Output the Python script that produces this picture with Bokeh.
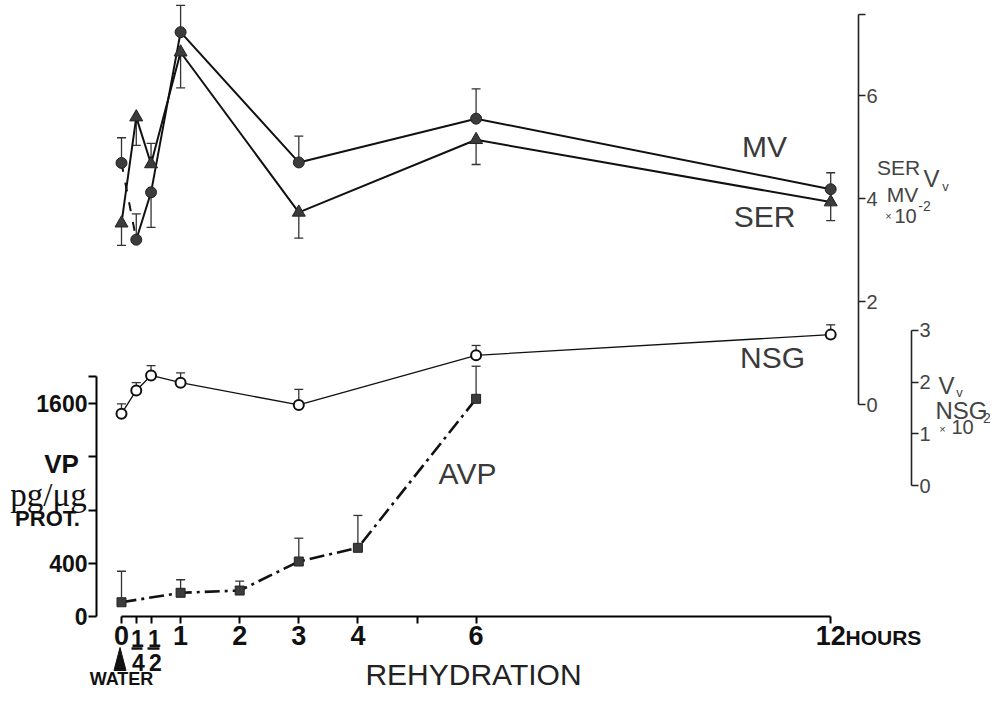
from bokeh.plotting import figure
from bokeh.models import Range1d, LinearAxis, FixedTicker, Whisker, TeeHead, ColumnDataSource
from bokeh.core.properties import value
from bokeh.embed import file_html
from bokeh.resources import INLINE

# ---------------- data ----------------
hours = [0, 0.25, 0.5, 1, 3, 6, 12]
mv = [4.69, 3.20, 4.12, 7.23, 4.70, 5.55, 4.18]
mv_err = [0.49, 0.50, -0.68, 0.52, 0.51, 0.58, 0.32]      # +: bar up, -: bar down
ser = [3.52, 5.58, 4.67, 6.84, 3.73, 5.14, 3.93]
ser_err = [-0.43, -0.55, 0.40, -0.69, -0.50, -0.48, -0.36]
nsg = [1.39, 1.84, 2.13, 1.99, 1.56, 2.52, 2.92]
nsg_err = [0.19, 0.15, 0.19, 0.19, 0.30, 0.19, 0.19]
avp_hours = [0, 1, 2, 3, 4, 6]
avp = [107, 178, 195, 413, 516, 1635]
avp_err = [233, 98, 70, 175, 243, 245]

hour_ticks = [0, 0.25, 0.5, 1, 2, 3, 4, 5, 6, 12]
hour_labels = ["0", "", "", "1", "2", "3", "4", "", "6", "12"]
vp_ticks = [0, 400, 800, 1200, 1600, 1800]
vp_labels = ["0", "400", "", "", "1600", ""]
vv_ticks = [0, 2, 4, 6, 7.57]
vv_labels = ["0", "2", "4", "6", ""]
nsg_ticks = [0, 1, 2, 3]
nsg_labels = ["0", "1", "2", "3"]

# ---------------- layout (picture pixels) ----------------
W, H = 990, 691
OX, OY = 0, 0
PX0, PXH = 121.0, 59.1            # hour 0 position, px per hour
PY0, K = 616.0, 400 / 53.25       # VP 0 position, units per px
MV0, MVS = 404.0, 51.5
NS0, NSS = 485.0, 51.67


def X(px):
    return (px - PX0) / PXH


def Y(py):
    return (PY0 - py) * K


SANS = "Liberation Sans"

p = figure(width=W, height=H, output_backend="svg", toolbar_location=None,
           x_axis_location=None, y_axis_location=None, min_border=0,
           x_range=Range1d(X(OX), X(OX + W)), y_range=Range1d(Y(OY + H), Y(OY)))
p.outline_line_color = None
p.background_fill_color = "white"
p.border_fill_color = "white"
p.grid.visible = False
p.extra_y_ranges = {
    "mv": Range1d(-(OY + H - MV0) / MVS, (MV0 - OY) / MVS),
    "nsg": Range1d(-(OY + H - NS0) / NSS, (NS0 - OY) / NSS),
}

# ---------------- axes ----------------
xa = LinearAxis(fixed_location=0, bounds=(0, 12), ticker=FixedTicker(ticks=hour_ticks),
                major_label_overrides={t: l for t, l in zip(hour_ticks, hour_labels)})
xa.axis_line_width = 2
xa.major_tick_line_width = 2
xa.major_tick_out = 7
xa.major_tick_in = 0
xa.minor_tick_out = 0
xa.major_label_standoff = 2
xa.major_label_text_font = SANS
xa.major_label_text_font_style = "bold"
xa.major_label_text_font_size = "27px"
xa.major_label_text_color = "#111"
p.add_layout(xa, "below")

ya = LinearAxis(fixed_location=X(96), bounds=(0, 1800), ticker=FixedTicker(ticks=vp_ticks),
                major_label_overrides={t: l for t, l in zip(vp_ticks, vp_labels)})
ya.axis_line_width = 2
ya.major_tick_line_width = 2
ya.major_tick_out = 8
ya.major_tick_in = 0
ya.minor_tick_out = 0
ya.major_label_standoff = 1
ya.major_label_text_font = SANS
ya.major_label_text_font_style = "bold"
ya.major_label_text_font_size = "23px"
ya.major_label_text_color = "#111"
p.add_layout(ya, "left")

for rng, loc, bnd, ticks, labels in [("mv", 858, (0, 7.57), vv_ticks, vv_labels),
                                      ("nsg", 911, (0, 3), nsg_ticks, nsg_labels)]:
    ax = LinearAxis(y_range_name=rng, fixed_location=X(loc), bounds=bnd,
                    ticker=FixedTicker(ticks=ticks),
                    major_label_overrides={t: l for t, l in zip(ticks, labels)})
    ax.axis_line_width = 1.6
    ax.axis_line_color = "#222"
    ax.major_tick_line_color = "#222"
    ax.major_tick_line_width = 1.4
    ax.major_tick_out = 7
    ax.major_tick_in = 0
    ax.minor_tick_out = 0
    ax.major_label_standoff = 1
    ax.major_label_text_font = SANS
    ax.major_label_text_font_size = "20px"
    ax.major_label_text_color = "#444"
    p.add_layout(ax, "right")


# ---------------- error bars ----------------
def err_bars(xs, ys, errs, rng=None):
    up = dict(base=[], lower=[], upper=[])
    dn = dict(base=[], lower=[], upper=[])
    for x, y, e in zip(xs, ys, errs):
        if e >= 0:
            up["base"].append(x); up["lower"].append(y); up["upper"].append(y + e)
        else:
            dn["base"].append(x); dn["lower"].append(y + e); dn["upper"].append(y)
    kw = {} if rng is None else {"y_range_name": rng}
    if up["base"]:
        p.add_layout(Whisker(source=ColumnDataSource(up), base="base", lower="lower", upper="upper",
                             dimension="height", line_width=1.3, line_color="#333",
                             upper_head=TeeHead(size=9, line_width=1.3, line_color="#333"),
                             lower_head=None, **kw))
    if dn["base"]:
        p.add_layout(Whisker(source=ColumnDataSource(dn), base="base", lower="lower", upper="upper",
                             dimension="height", line_width=1.3, line_color="#333",
                             lower_head=TeeHead(size=9, line_width=1.3, line_color="#333"),
                             upper_head=None, **kw))


err_bars(hours, mv, mv_err, "mv")
err_bars(hours, ser, ser_err, "mv")
err_bars(hours, nsg, nsg_err, "nsg")
err_bars(avp_hours, avp, avp_err)

# ---------------- lines and markers ----------------
p.line(hours[:2], mv[:2], y_range_name="mv", line_color="#111", line_width=2, line_dash="9 11")
p.line(hours[1:], mv[1:], y_range_name="mv", line_color="#111", line_width=2)
p.line(hours, ser, y_range_name="mv", line_color="#111", line_width=2)
p.line(hours, nsg, y_range_name="nsg", line_color="#111", line_width=1.3)
p.line(avp_hours, avp, line_color="#111", line_width=2.6, line_dash="15 5 3 5")

p.scatter(hours, mv, y_range_name="mv", marker="circle", size=11,
          fill_color="#3c3c3c", line_color="#222", line_width=1)
p.scatter(hours, ser, y_range_name="mv", marker="triangle", size=13,
          fill_color="#3c3c3c", line_color="#222", line_width=1)
p.scatter(hours, nsg, y_range_name="nsg", marker="circle", size=10,
          fill_color="white", line_color="#111", line_width=2)
p.scatter(avp_hours, avp, marker="square", size=9,
          fill_color="#3c3c3c", line_color="#222", line_width=1)


# ---------------- texts ----------------
def txt(px, py, s, size, font=SANS, style="normal", color="#111", align="center", baseline="middle"):
    p.text(x=[X(px)], y=[Y(py)], text=[s], text_font=value(font), text_font_size=f"{size}px",
           text_font_style=style, text_color=color, text_align=align, text_baseline=baseline)


# series labels
txt(764, 146, "MV", 30, color="#3a3a3a")
txt(764, 216, "SER", 30, color="#3a3a3a")
txt(772, 357, "NSG", 30, color="#3a3a3a")
txt(467, 473, "AVP", 30, color="#3a3a3a")

# left axis title
txt(61, 463, "VP", 26, style="bold")
txt(48, 494, "pg/\u03bcg", 33, font="Liberation Serif")
txt(47, 518, "PROT.", 22, style="bold")

# fractional ticks
txt(137, 638, "1", 23, style="bold")
txt(138, 662, "4", 23, style="bold")
txt(154, 638, "1", 23, style="bold")
txt(155, 662, "2", 23, style="bold")
p.segment(x0=[X(131), X(147)], y0=[Y(648), Y(648)], x1=[X(142), X(159)], y1=[Y(648), Y(648)],
          line_color="#111", line_width=2.5)

txt(845, 637, "HOURS", 21, style="bold", align="left")
txt(473, 674, "REHYDRATION", 30, color="#222")

# water arrow
p.patch([X(113.5), X(125.5), X(119.5)], [Y(670), Y(670), Y(647)], color="#111")
txt(121, 688, "WATER", 18, style="bold", baseline="bottom")

# right-hand axis titles
G = "#444"
txt(898, 167, "SER", 21, color=G)
txt(931, 178, "V", 24, color=G)
txt(945, 186, "v", 13, color=G)
txt(902, 194, "MV", 21, color=G)
txt(888, 215, "\u00d7", 11, color=G)
txt(905, 215, "10", 20, color=G)
txt(924, 205, "-2", 14, color=G)

txt(946, 385, "V", 24, color=G)
txt(959, 392, "v", 13, color=G)
txt(961, 410, "NSG", 24, color=G)
txt(942, 428, "\u00d7", 11, color=G)
txt(962, 426, "10", 20, color=G)
txt(984, 417, "-2", 14, color=G)

open("out.html", "w").write(file_html(p, INLINE))
